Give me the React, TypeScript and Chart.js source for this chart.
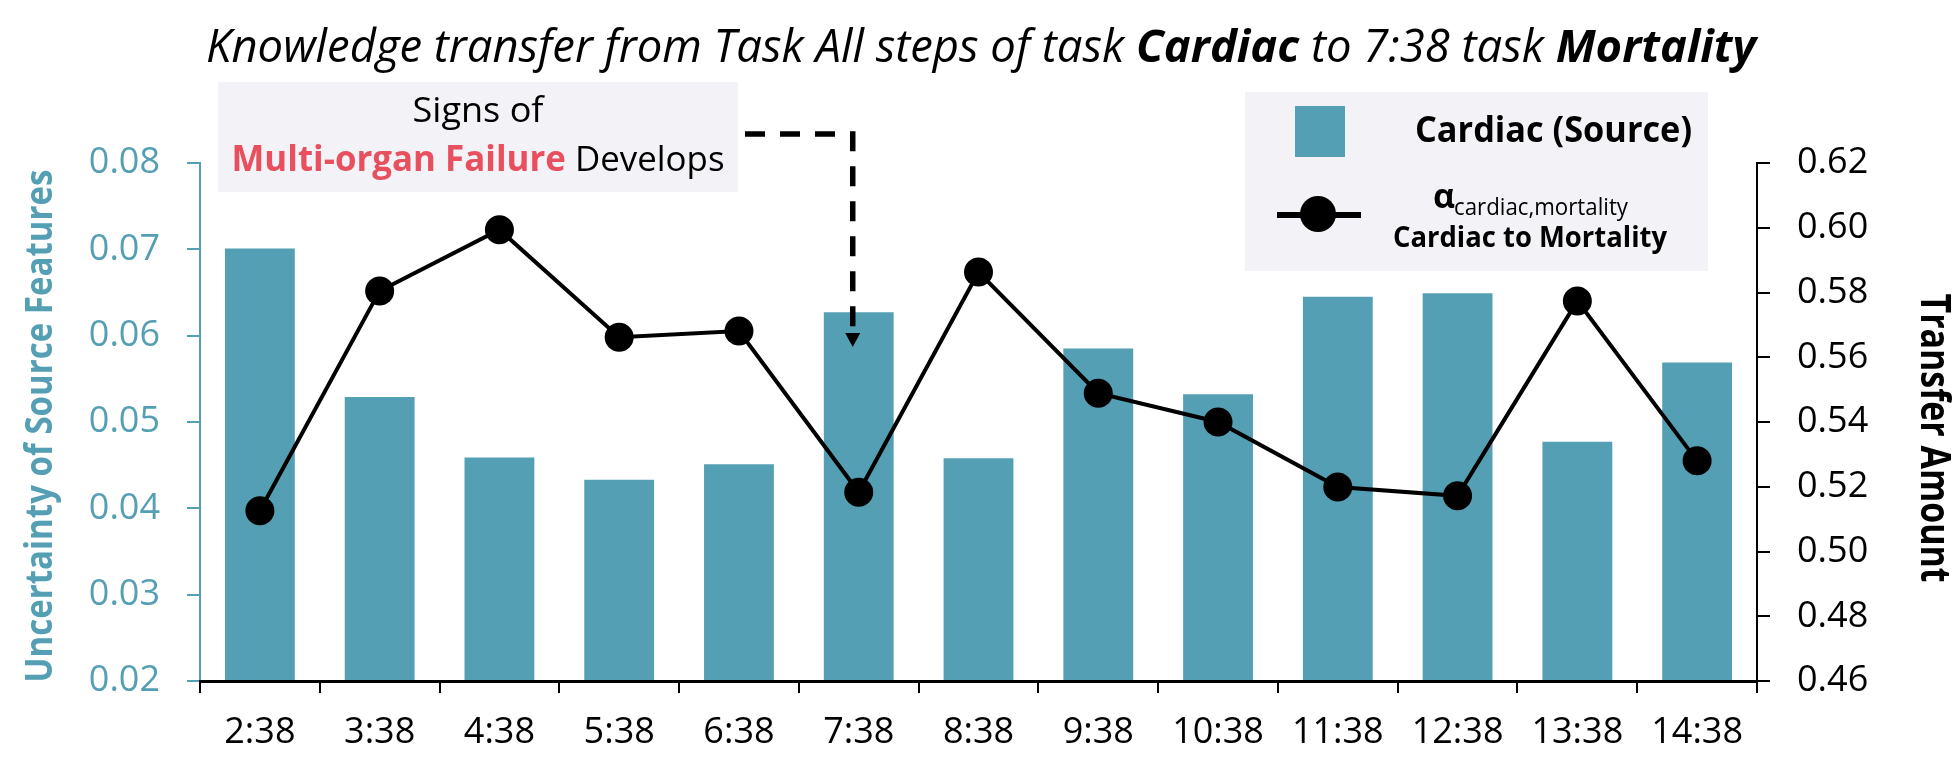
import React, { useEffect, useRef } from 'react';
import { Chart, registerables } from 'chart.js';

Chart.register(...registerables);

const categories = ['2:38', '3:38', '4:38', '5:38', '6:38', '7:38', '8:38', '9:38', '10:38', '11:38', '12:38', '13:38', '14:38'];
const uncertaintyValues = [0.0701, 0.0529, 0.0459, 0.0433, 0.0451, 0.0627, 0.0458, 0.0585, 0.0532, 0.0645, 0.0649, 0.0477, 0.0569];
const transferValues = [0.5126, 0.5805, 0.5994, 0.5662, 0.5681, 0.5183, 0.5863, 0.5489, 0.5400, 0.5199, 0.5172, 0.5774, 0.5280];
const leftTicks = [0.02, 0.03, 0.04, 0.05, 0.06, 0.07, 0.08];
const rightTicks = [0.46, 0.48, 0.5, 0.52, 0.54, 0.56, 0.58, 0.6, 0.62];

const TEAL = '#549FB4';
const RED = '#E8505F';
const BOXBG = '#F2F2F7';
const FONT = '"Open Sans", "Noto Sans", sans-serif';

type Seg = { text: string; font: string; color: string };

function drawSegs(ctx: CanvasRenderingContext2D, segs: Seg[], cx: number, baseline: number, target: number) {
  let total = 0;
  const widths = segs.map((s) => {
    ctx.font = s.font;
    const w = ctx.measureText(s.text).width;
    total += w;
    return w;
  });
  const sx = target / total;
  ctx.save();
  ctx.translate(cx - target / 2, baseline);
  ctx.scale(sx, 1);
  ctx.textAlign = 'left';
  ctx.textBaseline = 'alphabetic';
  let x = 0;
  segs.forEach((s, i) => {
    ctx.font = s.font;
    ctx.fillStyle = s.color;
    ctx.fillText(s.text, x, 0);
    x += widths[i];
  });
  ctx.restore();
}

const overlayPlugin = {
  id: 'overlay',
  afterDraw(chart: any) {
    const ctx: CanvasRenderingContext2D = chart.ctx;
    ctx.save();

    // Title
    drawSegs(ctx, [
      { text: 'Knowledge transfer from Task All steps of task ', font: `italic 400 45px ${FONT}`, color: '#000' },
      { text: 'Cardiac', font: `italic 700 45px ${FONT}`, color: '#000' },
      { text: ' to 7:38 task ', font: `italic 400 45px ${FONT}`, color: '#000' },
      { text: 'Mortality', font: `italic 700 45px ${FONT}`, color: '#000' },
    ], 981, 62, 1550);

    // Left axis title
    ctx.save();
    ctx.translate(52, 426);
    ctx.rotate(-Math.PI / 2);
    drawSegs(ctx, [{ text: 'Uncertainty of Source Features', font: `700 38px ${FONT}`, color: TEAL }], 0, 0, 513);
    ctx.restore();

    // Right axis title
    ctx.save();
    ctx.translate(1921, 438);
    ctx.rotate(Math.PI / 2);
    drawSegs(ctx, [{ text: 'Transfer Amount', font: `700 41px ${FONT}`, color: '#000' }], 0, 0, 289);
    ctx.restore();

    // Annotation box
    ctx.fillStyle = BOXBG;
    ctx.fillRect(218, 82, 520, 110);
    drawSegs(ctx, [{ text: 'Signs of', font: `400 35px ${FONT}`, color: '#000' }], 478, 122, 131);
    drawSegs(ctx, [
      { text: 'Multi-organ Failure', font: `700 35px ${FONT}`, color: RED },
      { text: ' Develops', font: `400 35px ${FONT}`, color: '#000' },
    ], 478, 171, 493);

    // Dashed arrow
    const xs = chart.scales.x;
    const ax = xs.getPixelForValue(5) - 6;
    ctx.strokeStyle = '#000';
    ctx.lineWidth = 5.5;
    ctx.setLineDash([20, 15]);
    ctx.beginPath();
    ctx.moveTo(745, 134);
    ctx.lineTo(ax, 134);
    ctx.lineTo(ax, 330);
    ctx.stroke();
    ctx.setLineDash([]);
    ctx.fillStyle = '#000';
    ctx.beginPath();
    ctx.moveTo(ax - 7.5, 333);
    ctx.lineTo(ax + 7.5, 333);
    ctx.lineTo(ax, 347);
    ctx.closePath();
    ctx.fill();

    // Legend box
    ctx.fillStyle = BOXBG;
    ctx.fillRect(1245, 92, 463, 179);
    ctx.fillStyle = TEAL;
    ctx.fillRect(1295, 106, 50, 51);
    drawSegs(ctx, [{ text: 'Cardiac (Source)', font: `700 35px ${FONT}`, color: '#000' }], 1415 + 277 / 2, 142, 277);
    ctx.strokeStyle = '#000';
    ctx.lineWidth = 6;
    ctx.beginPath();
    ctx.moveTo(1277, 215);
    ctx.lineTo(1361, 215);
    ctx.stroke();
    ctx.fillStyle = '#000';
    ctx.beginPath();
    ctx.arc(1318, 214, 18, 0, Math.PI * 2);
    ctx.fill();
    ctx.font = `700 34px ${FONT}`;
    ctx.textAlign = 'left';
    ctx.textBaseline = 'alphabetic';
    ctx.fillText('α', 1433, 208);
    drawSegs(ctx, [{ text: 'cardiac,mortality', font: `400 24px ${FONT}`, color: '#000' }], 1454 + 87, 215, 174);
    drawSegs(ctx, [{ text: 'Cardiac to Mortality', font: `700 28px ${FONT}`, color: '#000' }], 1530, 247, 274);

    ctx.restore();
  },
};

export default function App() {
  const ref = useRef<HTMLCanvasElement | null>(null);

  useEffect(() => {
    if (!ref.current) return;
    const chart = new Chart(ref.current, {
      type: 'bar',
      data: {
        labels: categories,
        datasets: [
          {
            type: 'line',
            label: 'Cardiac to Mortality',
            data: transferValues,
            yAxisID: 'y1',
            borderColor: '#000',
            backgroundColor: '#000',
            borderWidth: 4,
            pointRadius: 14.5,
            pointHoverRadius: 14.5,
            pointBackgroundColor: '#000',
            pointBorderWidth: 0,
            tension: 0,
            order: 0,
          } as any,
          {
            type: 'bar',
            label: 'Cardiac (Source)',
            data: uncertaintyValues,
            yAxisID: 'y',
            backgroundColor: TEAL,
            borderWidth: 0,
            categoryPercentage: 1,
            barPercentage: 0.583,
            order: 1,
          } as any,
        ],
      },
      options: {
        animation: false,
        responsive: false,
        layout: { padding: { top: 163, left: 0, right: 0, bottom: 0 } },
        plugins: {
          legend: { display: false },
          title: { display: false },
          tooltip: { enabled: false },
        },
        scales: {
          x: {
            type: 'category',
            offset: true,
            grid: {
              display: true,
              offset: true,
              drawOnChartArea: false,
              drawTicks: true,
              tickLength: 12,
              color: '#000',
              lineWidth: 2,
            },
            border: { display: true, color: '#000', width: 3, z: 1 } as any,
            ticks: {
              color: '#000',
              font: { family: FONT, size: 36 },
              padding: 18,
              maxRotation: 0,
              autoSkip: false,
            },
            afterFit: (s: any) => { s.height = 91; },
          },
          y: {
            type: 'linear',
            position: 'left',
            min: 0.02,
            max: 0.08,
            afterBuildTicks: (s: any) => { s.ticks = leftTicks.map((v) => ({ value: v })); },
            grid: {
              display: true,
              drawOnChartArea: false,
              drawTicks: true,
              tickLength: 13,
              color: TEAL,
              lineWidth: 2,
            },
            border: { display: true, color: TEAL, width: 2 },
            ticks: {
              color: TEAL,
              font: { family: FONT, size: 36 },
              padding: 27,
              callback: (v: any) => Number(v).toFixed(2),
            },
            afterFit: (s: any) => { s.width = 200; },
          },
          y1: {
            type: 'linear',
            position: 'right',
            min: 0.46,
            max: 0.62,
            afterBuildTicks: (s: any) => { s.ticks = rightTicks.map((v) => ({ value: v })); },
            grid: {
              display: true,
              drawOnChartArea: false,
              drawTicks: true,
              tickLength: 13,
              color: '#000',
              lineWidth: 2,
            },
            border: { display: true, color: '#000', width: 2 },
            ticks: {
              color: '#000',
              font: { family: FONT, size: 36 },
              padding: 27,
              callback: (v: any) => Number(v).toFixed(2),
            },
            afterFit: (s: any) => { s.width = 201; },
          },
        },
      },
      plugins: [overlayPlugin],
    } as any);
    return () => chart.destroy();
  }, []);

  return (
    <div style={{ position: 'fixed', left: 0, top: 0, width: 1958, height: 772, background: '#fff' }}>
      <canvas ref={ref} width={1958} height={772} style={{ display: 'block' }} />
    </div>
  );
}
